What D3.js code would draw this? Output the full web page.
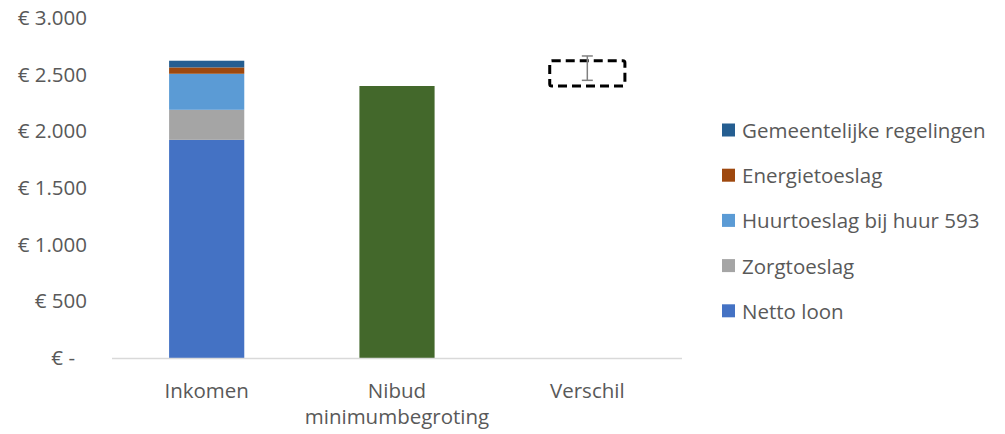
<!DOCTYPE html>
<html>
<head>
<meta charset="utf-8">
<script src="https://cdn.jsdelivr.net/npm/d3@7"></script>
<style>
  body { margin: 0; background: #fff; }
  text { font-family: "Open Sans", sans-serif; fill: #595959; }
</style>
</head>
<body>
<div id="chart"></div>
<script>
const categories = ['Inkomen', 'Nibud minimumbegroting', 'Verschil'];
const nettoLoon = [1925, 0, 0];
const zorgtoeslag = [265, 0, 0];
const huurtoeslag = [318, 0, 0];
const energietoeslag = [56, 0, 0];
const gemeentelijk = [59, 0, 0];
const nibud = [0, 2400, 0];
const verschilBasis = [0, 0, 2400];
const verschil = [0, 0, 223];
const errorLow = [null, null, 2450];
const errorHigh = [null, null, 2665];
const yTicks = [0, 500, 1000, 1500, 2000, 2500, 3000];

const series = [
  { name: 'Netto loon', values: nettoLoon, color: '#4472C4', legend: true },
  { name: 'Zorgtoeslag', values: zorgtoeslag, color: '#A5A5A5', legend: true },
  { name: 'Huurtoeslag bij huur 593', values: huurtoeslag, color: '#5B9BD5', legend: true },
  { name: 'Energietoeslag', values: energietoeslag, color: '#9E480E', legend: true },
  { name: 'Gemeentelijke regelingen', values: gemeentelijk, color: '#255E91', legend: true },
  { name: 'Nibud', values: nibud, color: '#43682B', legend: false },
  { name: 'Basis', values: verschilBasis, color: 'none', legend: false },
  { name: 'Verschil', values: verschil, color: 'none', dashed: true, legend: false }
];

const width = 1005, height = 434;
const margin = { top: 18, left: 112, plotRight: 682, bottom: 358 };

const svg = d3.select('#chart').append('svg')
  .attr('width', width).attr('height', height);

const x = d3.scaleBand()
  .domain(categories)
  .range([margin.left, margin.plotRight])
  .paddingInner(0.605)
  .paddingOuter(0.3);

const y = d3.scaleLinear()
  .domain([0, 3000])
  .range([margin.bottom, margin.top]);

// stacked bars
const base = categories.map(() => 0);
series.forEach(s => {
  s.values.forEach((v, i) => {
    const y0 = base[i];
    const y1 = y0 + v;
    base[i] = y1;
    if (!v) return;
    const r = svg.append('rect')
      .attr('x', x(categories[i]))
      .attr('width', x.bandwidth())
      .attr('y', y(y1))
      .attr('height', y(y0) - y(y1))
      .attr('fill', s.color);
    if (s.dashed) {
      r.attr('stroke', '#000')
        .attr('stroke-width', 3)
        .attr('stroke-dasharray', '9,5')
        .attr('rx', 2);
    }
  });
});

// error bar
categories.forEach((c, i) => {
  if (errorLow[i] == null) return;
  const cx = x(c) + x.bandwidth() / 2;
  const g = svg.append('g').attr('stroke', '#808080').attr('stroke-width', 1.5);
  g.append('line').attr('x1', cx).attr('x2', cx).attr('y1', y(errorHigh[i])).attr('y2', y(errorLow[i]));
  [errorLow[i], errorHigh[i]].forEach(v => {
    g.append('line').attr('x1', cx - 5.5).attr('x2', cx + 5.5).attr('y1', y(v)).attr('y2', y(v));
  });
});

// y axis
const yAxis = d3.axisLeft(y)
  .tickValues(yTicks)
  .tickSize(0)
  .tickPadding(0)
  .tickFormat(d => d === 0 ? '€ -' : '€ ' + d3.format(',')(d).replace(/,/g, '.'));

svg.append('g')
  .attr('transform', 'translate(87,0)')
  .call(yAxis)
  .call(g => g.select('.domain').remove())
  .call(g => g.selectAll('text')
    .style('font-size', '20.5px')
    .style('font-family', '"Open Sans", sans-serif')
    .attr('fill', '#595959')
    .attr('dx', d => d === 0 ? -12 : 0));

// x axis
svg.append('line')
  .attr('x1', margin.left).attr('x2', margin.plotRight)
  .attr('y1', y(0) + 0.5).attr('y2', y(0) + 0.5)
  .attr('stroke', '#D9D9D9').attr('stroke-width', 1.5);

const xLabels = [['Inkomen'], ['Nibud', 'minimumbegroting'], ['Verschil']];
categories.forEach((c, i) => {
  const t = svg.append('text')
    .attr('x', x(c) + x.bandwidth() / 2)
    .attr('y', 398)
    .attr('text-anchor', 'middle')
    .style('font-size', '20.5px');
  xLabels[i].forEach((line, j) => {
    t.append('tspan')
      .attr('x', x(c) + x.bandwidth() / 2)
      .attr('dy', j === 0 ? 0 : 25.5)
      .text(line);
  });
});

// legend
const legendItems = series.filter(s => s.legend).reverse();
const legend = svg.append('g').attr('transform', 'translate(722,0)');
legendItems.forEach((s, i) => {
  const ly = 130 + i * 45.2;
  legend.append('rect')
    .attr('x', 0).attr('y', ly - 6.5)
    .attr('width', 13).attr('height', 13)
    .attr('fill', s.color);
  legend.append('text')
    .attr('x', 20).attr('y', ly)
    .attr('dominant-baseline', 'central')
    .style('font-size', '20.5px')
    .text(s.name);
});
</script>
</body>
</html>
